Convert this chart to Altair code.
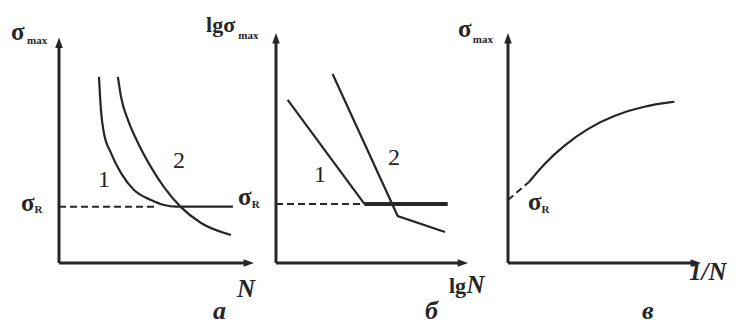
import altair as alt
import pandas as pd

FONT = "Liberation Serif"
INK = "#262626"

# ---------------- data (each panel in its own 0..10 units) ----------------
# панель а : σmax от N
A_CURVE1_X = [2.03, 2.13, 2.28, 2.64, 3.15, 3.81, 4.67, 5.33, 5.94, 8.83]
A_CURVE1_Y = [8.09, 6.65, 5.65, 4.78, 3.91, 3.17, 2.74, 2.52, 2.45, 2.45]
A_CURVE2_X = [2.99, 3.15, 3.50, 4.01, 4.67, 5.33, 6.19, 7.21, 8.73]
A_CURVE2_Y = [8.09, 7.22, 6.22, 5.22, 4.17, 3.30, 2.43, 1.74, 1.22]
A_SIGMA_R = 2.45
A_DASH_END = 5.0
A_X_TIP, A_Y_TIP = 9.9, 9.8

# панель б : lgσmax от lgN
B_LINE1_X = [0.55, 4.17]
B_LINE1_Y = [7.09, 2.57]
B_LINE2_X = [2.67, 5.74, 7.97]
B_LINE2_Y = [8.22, 2.04, 1.35]
B_SIGMA_R = 2.57
B_FLAT_END = 8.10
B_X_TIP, B_Y_TIP = 9.06, 10.0

# панель в : σmax от 1/N
C_CURVE_X = [1.10, 1.88, 2.92, 4.13, 5.51, 7.06, 8.62]
C_CURVE_Y = [3.53, 4.33, 5.13, 5.86, 6.43, 6.83, 7.01]
C_SIGMA_R = 2.74
C_X_TIP, C_Y_TIP = 10.0, 10.0

# labels: (text, x, y, style)  -- x = left edge, y = baseline
A_LABELS = [
    ("σ", -2.44, 9.70, "sigma"), ("max", -1.62, 9.52, "sub"),
    ("σ", -1.93, 2.26, "sigma"), ("R", -1.25, 2.17, "sub"),
    ("σ", 9.08, 2.52, "sigma"), ("R", 9.78, 2.40, "sub"),
    ("1", 1.98, 3.30, "num"), ("2", 5.79, 4.13, "num"),
    ("N", 9.04, -1.48, "axis"), ("а", 7.82, -2.45, "letter"),
]
B_LABELS = [
    ("lgσ", -3.30, 10.04, "lg"), ("max", -1.78, 9.76, "sub"),
    ("1", 1.79, 3.52, "num"), ("2", 5.28, 4.26, "num"),
    ("lg", 8.16, -1.30, "lg"), ("N", 8.98, -1.30, "axis"),
    ("б", 7.03, -2.45, "letter"),
]
C_LABELS = [
    ("σ", -2.59, 9.83, "sigma"), ("max", -1.82, 9.58, "sub"),
    ("σ", 1.04, 2.30, "sigma"), ("R", 1.73, 2.19, "sub"),
    ("1/N", 9.38, -0.74, "axis"), ("в", 6.94, -2.45, "letter"),
]

STYLES = {
    "sigma": dict(fontSize=25, fontWeight="bold", fontStyle="normal"),
    "sub": dict(fontSize=11, fontWeight="bold", fontStyle="normal"),
    "num": dict(fontSize=24, fontWeight="normal", fontStyle="normal"),
    "axis": dict(fontSize=25, fontWeight="bold", fontStyle="italic"),
    "lg": dict(fontSize=22, fontWeight="bold", fontStyle="normal"),
    "letter": dict(fontSize=26, fontWeight="bold", fontStyle="italic"),
}

UP_ARROW = "M0,0 L0.42,1.15 L-0.42,1.15 Z"
RIGHT_ARROW = "M0,0 L-1.15,-0.42 L-1.15,0.42 Z"
HEIGHT = 230
NO_FRAME = alt.ViewBackground(stroke="transparent", strokeWidth=0)


def build_panel(width, x_tip, y_tip, curves, interp, dashed, thick, labels):
    xs = alt.Scale(domain=[0, 10], nice=False, zero=False)
    ys = alt.Scale(domain=[0, 10], nice=False, zero=False)

    def enc(ch, extra=None):
        e = dict(
            x=alt.X("x:Q", scale=xs, axis=None),
            y=alt.Y("y:Q", scale=ys, axis=None),
        )
        if extra:
            e.update(extra)
        return ch.encode(**e)

    layers = []
    # axes
    axes = pd.DataFrame({
        "x": [0, 0], "y": [0, 0],
        "x2": [x_tip - 0.35, 0], "y2": [0, y_tip - 0.3],
    })
    layers.append(enc(alt.Chart(axes).mark_rule(color=INK, strokeWidth=3),
                      {"x2": "x2:Q", "y2": "y2:Q"}))
    layers.append(enc(alt.Chart(pd.DataFrame({"x": [0], "y": [y_tip]})).mark_point(
        shape=UP_ARROW, filled=True, size=330, color=INK, opacity=1)))
    layers.append(enc(alt.Chart(pd.DataFrame({"x": [x_tip], "y": [0]})).mark_point(
        shape=RIGHT_ARROW, filled=True, size=330, color=INK, opacity=1)))

    # curves
    rows = []
    for name, (cx, cy) in curves.items():
        for i, (a, b) in enumerate(zip(cx, cy)):
            rows.append({"series": name, "i": i, "x": a, "y": b})
    layers.append(enc(alt.Chart(pd.DataFrame(rows)).mark_line(
        color=INK, strokeWidth=2.2, interpolate=interp),
        {"detail": "series:N", "order": "i:Q"}))

    # dashed extension
    d = pd.DataFrame([dict(x=dashed[0], y=dashed[1], x2=dashed[2], y2=dashed[3])])
    layers.append(enc(alt.Chart(d).mark_rule(color=INK, strokeWidth=2, strokeDash=[7, 4]),
                      {"x2": "x2:Q", "y2": "y2:Q"}))
    # thick horizontal endurance level
    if thick is not None:
        t = pd.DataFrame([dict(x=thick[0], y=thick[1], x2=thick[2], y2=thick[3])])
        layers.append(enc(alt.Chart(t).mark_rule(color=INK, strokeWidth=thick[4]),
                          {"x2": "x2:Q", "y2": "y2:Q"}))

    # labels
    lab = pd.DataFrame(labels, columns=["text", "x", "y", "style"])
    for style, props in STYLES.items():
        sub = lab[lab["style"] == style]
        if sub.empty:
            continue
        layers.append(enc(alt.Chart(sub).mark_text(
            font=FONT, color=INK, align="left", baseline="alphabetic", **props),
            {"text": "text:N"}))

    return alt.layer(*layers).properties(width=width, height=HEIGHT, view=NO_FRAME)


panel_a = build_panel(
    197, A_X_TIP, A_Y_TIP,
    {"1": (A_CURVE1_X, A_CURVE1_Y), "2": (A_CURVE2_X, A_CURVE2_Y)}, "monotone",
    (0, A_SIGMA_R, A_DASH_END, A_SIGMA_R), None, A_LABELS)

panel_b = build_panel(
    212, B_X_TIP, B_Y_TIP,
    {"1": (B_LINE1_X, B_LINE1_Y), "2": (B_LINE2_X, B_LINE2_Y)}, "linear",
    (0, B_SIGMA_R, B_LINE1_X[-1], B_SIGMA_R),
    (B_LINE1_X[-1], B_SIGMA_R, B_FLAT_END, B_SIGMA_R, 4), B_LABELS)

panel_c = build_panel(
    193, C_X_TIP, C_Y_TIP,
    {"c": (C_CURVE_X, C_CURVE_Y)}, "basis",
    (0, C_SIGMA_R, C_CURVE_X[0], C_CURVE_Y[0]), None, C_LABELS)

chart = alt.hconcat(
    panel_a, panel_b, panel_c, spacing=20, bounds="flush",
    padding={"left": 2, "top": 6, "right": 0, "bottom": 0},
).configure_view(stroke="transparent", strokeWidth=0).configure(background="white")

chart.save("out.html", embed_options={"renderer": "svg", "actions": False})
